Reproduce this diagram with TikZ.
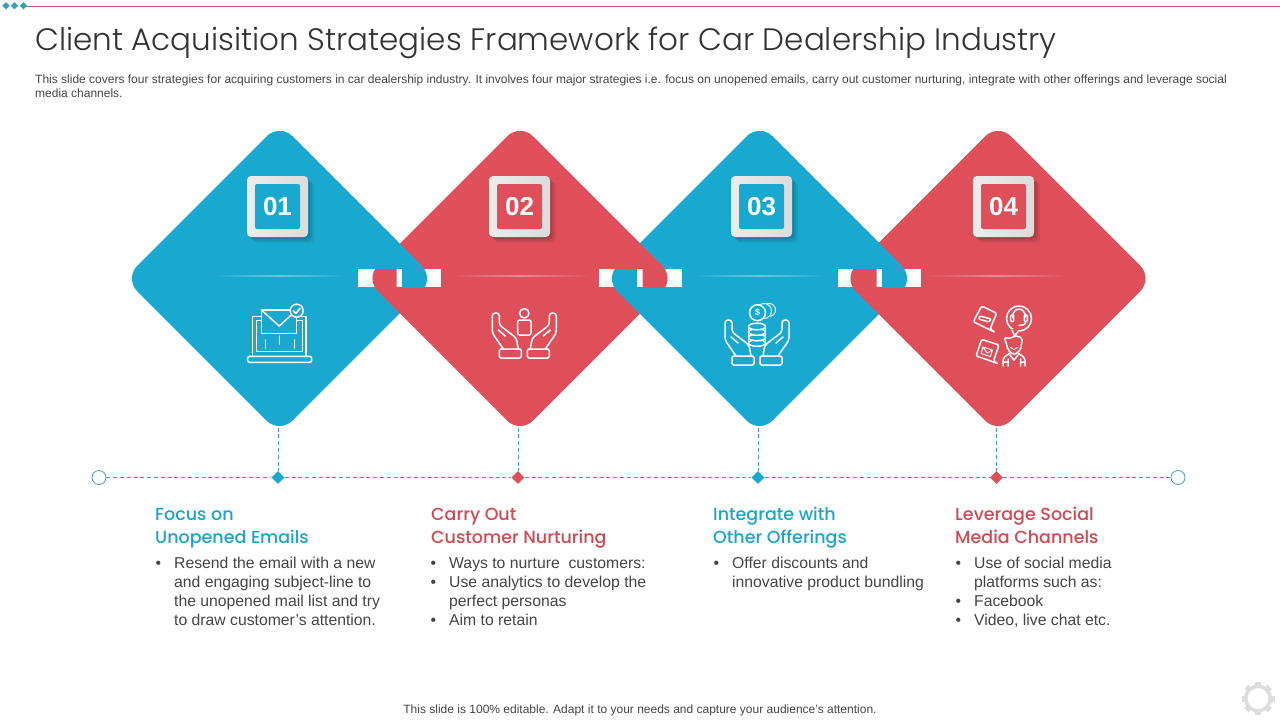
\documentclass[tikz,border=0pt]{standalone}
\usepackage{fontspec}
\setmainfont{Liberation Sans}
\newfontfamily\titlefont[UprightFont=* Light]{Poppins}
\newfontfamily\headfont[UprightFont=* Medium]{Poppins}
\usetikzlibrary{shapes.geometric,shadows}

\definecolor{tileblue}{HTML}{19A9D0}
\definecolor{tilered}{HTML}{DE4F59}
\definecolor{headblue}{HTML}{1CA5CB}
\definecolor{headred}{HTML}{CF4A53}
\definecolor{dashblue}{HTML}{3E9DBB}
\definecolor{rulered}{HTML}{B4686C}
\definecolor{topteal}{HTML}{2FA3B5}
\definecolor{inkgray}{HTML}{444444}

\tikzset{
  tile/.style={diamond,aspect=1,inner sep=0pt,outer sep=0pt,minimum width=310pt,minimum height=310pt,rounded corners=18pt},
  badge/.style={rectangle,rounded corners=4pt,minimum size=61pt,inner sep=0pt,left color=gray!15,right color=gray!28,
    drop shadow={shadow xshift=2pt,shadow yshift=-2pt,opacity=.1,fill=black},
    drop shadow={shadow xshift=4pt,shadow yshift=-4pt,opacity=.08,fill=black},
    drop shadow={shadow xshift=6pt,shadow yshift=-6pt,opacity=.06,fill=black}},
  numbox/.style={rectangle,rounded corners=2pt,minimum size=45pt,inner sep=0pt,text=white,font=\fontsize{26}{26}\selectfont\bfseries},
  dashline/.style={dash pattern=on 4pt off 2.8pt,dashblue,line width=1pt},
  marker/.style={diamond,aspect=1,inner sep=0pt,minimum size=13pt},
  endring/.style={circle,draw=dashblue,fill=white,line width=.8pt,minimum size=14pt,inner sep=0pt},
  headtext/.style={anchor=north west,align=left,inner sep=0pt,font=\headfont\fontsize{17.5}{23}\selectfont},
  bodytext/.style={anchor=north west,align=left,inner sep=0pt,text=inkgray,font=\fontsize{15.75}{19}\selectfont},
  smalltext/.style={text=inkgray,inner sep=0pt,font=\fontsize{12}{14}\selectfont},
  iconline/.style={draw=white,line width=1.5pt,line join=round,line cap=round},
  hands/.pic={
    \foreach \sx in {-1,1}{
      \begin{scope}[xscale=\sx]
        \draw[iconline,rounded corners=1.5pt] (-25,-9) rectangle (-3,0);
        \draw[iconline,rounded corners=3pt] (-21,-9) -- (-32,-25) -- (-32,-45) -- (-25,-45) -- (-25,-33) -- (-8,-20) -- (-6,-9);
        \draw[iconline] (-26,-28) -- (-19,-22);
      \end{scope}
    }
  }
}

% one bullet, and the indent of a continued line
\newcommand{\bul}{\makebox[18.5pt][l]{\textbullet}}
\newcommand{\ind}{\hspace*{18.5pt}}
% filled copy of a tile, for the interlocking overlaps
\newcommand{\tilefill}[2]{\fill[#2,rounded corners=18pt] (#1-155,278.5) -- (#1,123.5) -- (#1+155,278.5) -- (#1,433.5) -- cycle;}

\begin{document}
\begin{tikzpicture}[x=1pt,y=-1pt]
  \useasboundingbox (0,0) rectangle (1280,720);

  % Top rule
  \draw[rulered,line width=.8pt] (25,6) -- (1280,6);
  \foreach \n/\px in {a/6,b/14.5,c/23.5}
    \node[marker,fill=topteal,minimum size=7.5pt] (top\n) at (\px,5.7) {};

  % Title and description
  \node[anchor=west,inner sep=0pt,text=black!80,font=\titlefont\fontsize{31}{36}\selectfont] (title) at (35,42.5)
    {Client Acquisition Strategies Framework for Car Dealership Industry};
  \node[smalltext,anchor=north west,align=left] (intro) at (35,75)
    {This slide covers four strategies for acquiring customers in car dealership industry. It involves four major strategies i.e. focus on unopened emails, carry out customer nurturing, integrate with other offerings and leverage social\\media channels.};

  % Tiles
  \foreach \n/\cx/\col in {1/279.5/tileblue,2/520/tilered,3/759.5/tileblue,4/998/tilered}
    \node[tile,fill=\col] (tile\n) at (\cx,278.5) {};

  % Interlocks
  \foreach \cx/\colA/\nx/\colB in {279.5/tileblue/520/tilered,520/tilered/759.5/tileblue,759.5/tileblue/998/tilered}{
    \begin{scope}
      \clip (\cx,120) rectangle (\nx,269);
      \tilefill{\cx}{\colA}
    \end{scope}
    \fill[white] (\cx+78.5,269) rectangle (\cx+161.5,287);
    \begin{scope}
      \clip (\cx+78.5,269) rectangle (\cx+117,287);
      \tilefill{\nx}{\colB}
    \end{scope}
    \begin{scope}
      \clip (\cx+122.5,269) rectangle (\cx+161.5,287);
      \tilefill{\cx}{\colA}
    \end{scope}
  }

  % Thin lines in the tiles
  \foreach \cx/\col in {279.5/tileblue,520/tilered,759.5/tileblue,998/tilered}
    \shade[left color=\col,right color=\col,middle color=white!35!\col] (\cx-70,275.4) rectangle (\cx+70,276.2);

  % Badges
  \foreach \n/\bx/\col in {1/277.5/tileblue,2/519.5/tilered,3/761.5/tileblue,4/1003.5/tilered}{
    \node[badge] (badge\n) at (\bx,206.5) {};
    \node[numbox,fill=\col] (num\n) at (badge\n) {0\n};
  }

  % Timeline
  \node[endring] (startring) at (99,477.5) {};
  \node[endring] (endring) at (1178,477.5) {};
  \node[marker,fill=tileblue] (mark1) at (278,477.5) {};
  \node[marker,fill=tilered] (mark2) at (518,477.5) {};
  \node[marker,fill=tileblue] (mark3) at (758,477.5) {};
  \node[marker,fill=tilered] (mark4) at (996.5,477.5) {};
  \draw[dashline] (startring) -- (mark1);
  \draw[dashline] (mark1) -- (mark2);
  \draw[dashline] (mark2) -- (mark3);
  \draw[dashline] (mark3) -- (mark4);
  \draw[dashline] (mark4) -- (endring);
  \foreach \n in {1,2,3,4}
    \draw[dashline] (mark\n |- tile\n.south) ++(0,-6) -- (mark\n);

  % Icon 01: laptop and mail
  \draw[iconline,rounded corners=2pt] (247.7,356.3) rectangle (311.7,362.3);
  \draw[iconline] (252.7,356.3) -- (252.7,316.7) -- (306,316.7) -- (306,356.3);
  \draw[iconline] (256.7,351.7) -- (256.7,320.7) -- (302.7,320.7) -- (302.7,351.7) -- cycle;
  \foreach \lx/\ly in {265.3/340,279.3/336,294.7/340}
    \draw[iconline] (\lx,\ly) -- (\lx,\ly+8);
  \filldraw[iconline,fill=tileblue] (261.3,310) rectangle (296.7,333.3);
  \draw[iconline] (261.3,310) -- (279.3,326) -- (296.7,310);
  \filldraw[iconline,fill=tileblue] (296.7,310.7) circle [radius=6.5];
  \draw[iconline] (293.5,311) -- (296,313.5) -- (300,308.5);

  % Icon 02: person in hands
  \pic at (524.3,358) {hands};
  \draw[iconline] (524.3,313.3) circle [radius=4.7];
  \draw[iconline,rounded corners=2pt] (517.7,335) -- (517.7,320) -- (531,320) -- (531,335) -- cycle;

  % Icon 03: coins in hands
  \pic at (757,365) {hands};
  \foreach \yy in {340,334.5,329,323.5}
    \filldraw[iconline,fill=tileblue] (757,\yy+3) ellipse [x radius=8.5,y radius=3.3];
  \draw[iconline] (748.5,326.5) -- (748.5,343) (765.5,326.5) -- (765.5,343);
  \draw[iconline,line width=.9pt] (769,310) circle [radius=6.5];
  \draw[iconline,line width=.9pt,fill=tileblue] (764,311) circle [radius=7.5];
  \filldraw[iconline,fill=tileblue] (757.5,312.7) circle [radius=8];
  \node[text=white,inner sep=0pt,font=\fontsize{9}{9}\selectfont\bfseries] (coin) at (757.5,312.7) {\$};

  % Icon 04: chat and support
  \draw[iconline,rounded corners=1.5pt] (981.7,306) -- (996.7,313.3) -- (990,329) -- (995.5,332.5) -- (985,327.5) -- (973.3,321.7) -- cycle;
  \draw[iconline,rounded corners=1pt] (980,316) -- (991,319) -- (989,322) -- (978.5,319) -- cycle;
  \draw[iconline,rounded corners=1.5pt] (981.7,339.3) -- (999,345) -- (993.5,361) -- (998.5,364) -- (988,360) -- (976,356) -- cycle;
  \draw[iconline,line width=.9pt] (983,347) -- (992.5,350) -- (990.3,356.5) -- (981,353.5) -- cycle (983,347) -- (987,353) -- (992.5,350);
  \draw[iconline] (1019,318.5) circle [radius=12.5];
  \fill[tilered] (1011,329) rectangle (1018,333);
  \draw[iconline] (1012,330) -- (1014.5,336) -- (1018.5,331);
  \draw[iconline] (1012.5,317) .. controls (1013,306.5) and (1025,306.5) .. (1025.5,317);
  \draw[iconline,rounded corners=1pt] (1010.7,315) rectangle (1013.7,321.5);
  \draw[iconline,rounded corners=1pt] (1024.3,315) rectangle (1027.3,321.5);
  \draw[iconline] (1025.8,321.5) .. controls (1025.5,325) and (1022,325.5) .. (1019,325.5);
  \draw[iconline,rounded corners=2pt] (1006.5,344) -- (1004.3,337.5) -- (1011,338.5) -- (1015,335.5) -- (1022.5,338) -- (1021.5,344) -- (1020.5,350) -- (1014,355) -- (1008,350) -- cycle;
  \draw[iconline,line width=.9pt] (1010.5,347.5) -- (1014,349.5) -- (1017.5,347.5);
  \draw[iconline,rounded corners=2pt] (1003,366) -- (1003,358) -- (1010,353) (1018,353) -- (1025,358) -- (1025,366);
  \draw[iconline] (1008,366) -- (1008,359) (1020.5,366) -- (1020.5,359) (1003,362) -- (1008,362) (1020.5,362) -- (1025,362) (1010,355) -- (1014,360) -- (1018,355);

  % Headings
  \node[headtext,text=headblue] (headA) at (155,504) {\strut Focus on\\Unopened Emails};
  \node[headtext,text=headred] (headB) at (431,504) {\strut Carry Out\\Customer Nurturing};
  \node[headtext,text=headblue] (headC) at (713,504) {\strut Integrate with\\Other Offerings};
  \node[headtext,text=headred] (headD) at (955,504) {\strut Leverage Social\\Media Channels};

  % Bullet lists
  \node[bodytext] (listA) at (155.5,555) {\strut\bul Resend the email with a new\\\ind and engaging subject-line to\\\ind the unopened mail list and try\\\ind to draw customer’s attention.};
  \node[bodytext] (listB) at (430.5,555) {\strut\bul Ways to nurture\ \ customers:\\\bul Use analytics to develop the\\\ind perfect personas\\\bul Aim to retain};
  \node[bodytext] (listC) at (713.5,555) {\strut\bul Offer discounts and\\\ind innovative product bundling};
  \node[bodytext] (listD) at (955.5,555) {\strut\bul Use of social media\\\ind platforms such as:\\\bul Facebook\\\bul Video, live chat etc.};

  % Footer
  \node[smalltext] (footer) at (640,710) {This slide is 100\% editable. Adapt it to your needs and capture your audience's attention.};

  % Gear
  \fill[gray!27,even odd rule] (1258,698.5) circle [radius=14] (1258,698.5) circle [radius=10.5];
  \foreach \ang in {0,45,...,315}
    \fill[gray!27,shift={(1258,698.5)},rotate=\ang] (-3,-16.5) rectangle (3,-12.5);
\end{tikzpicture}
\end{document}
